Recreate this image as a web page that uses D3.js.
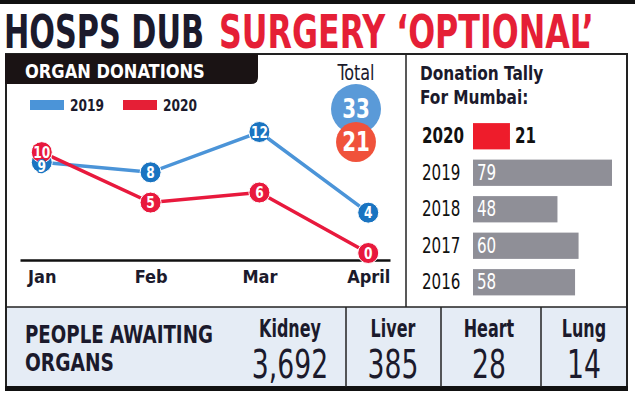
<!DOCTYPE html>
<html>
<head>
<meta charset="utf-8">
<script src="https://cdn.jsdelivr.net/npm/d3@7"></script>
<style>
  body { margin: 0; background: #fff; }
  svg { display: block; }
  text { font-family: "Liberation Sans Narrow", "DejaVu Sans Condensed", "Arial Narrow", sans-serif; }
</style>
</head>
<body>
<script>
var months = ['Jan', 'Feb', 'Mar', 'April'];
var donations2019 = [9, 8, 12, 4];
var donations2020 = [10, 5, 6, 0];
var seriesNames = ['2019', '2020'];
var totalValues = [33, 21];
var tallyYears = ['2020', '2019', '2018', '2017', '2016'];
var tallyValues = [21, 79, 48, 60, 58];
var organs = ['Kidney', 'Liver', 'Heart', 'Lung'];
var awaiting = [3692, 385, 28, 14];

var navy = '#1b1a2c';
var red = '#e51f36';
var blueLine = '#4b94d8';
var bluePt = '#1a74c1';
var redPt = '#e8193d';

var W = 635, H = 393;
var svg = d3.select('body').append('svg')
  .attr('width', W)
  .attr('height', H);

// text squeezed sideways, the installed condensed face is wider than the print one
function label(parent, tx, ty, sx, str) {
  return parent.append('g')
    .attr('transform', 'translate(' + tx + ',' + ty + ') scale(' + sx + ',1)')
    .append('text').text(str);
}

// squeeze a text so it spans a given width
function fitWidth(t, w) {
  var len = t.node().getComputedTextLength();
  var g = d3.select(t.node().parentNode);
  g.attr('transform', g.attr('transform').replace(/scale\([^)]*\)/, 'scale(' + (w / len) + ',1)'));
}

// top rule + headline
svg.append('rect').attr('x', 0).attr('y', 0).attr('width', W).attr('height', 4).attr('fill', '#111');
var h1 = label(svg, 4, 48, 1, 'HOSPS DUB')
  .attr('font-size', 47).attr('font-weight', 'bold').attr('fill', navy);
fitWidth(h1, 200);
var h2 = label(svg, 219, 48, 1, 'SURGERY \u2018OPTIONAL\u2019')
  .attr('font-size', 47).attr('font-weight', 'bold').attr('fill', red);
fitWidth(h2, 375);

// frame
var L = 6, R = 627, T = 54, B = 387, midX = 406, splitY = 307;
svg.append('rect').attr('x', L).attr('y', splitY).attr('width', R - L).attr('height', B - splitY).attr('fill', '#e5ecf5');
svg.append('path')
  .attr('d', 'M' + L + ',' + B + 'V' + T + 'H' + R + 'V' + B)
  .attr('fill', 'none').attr('stroke', '#222').attr('stroke-width', 2);
svg.append('line').attr('x1', L).attr('x2', R).attr('y1', splitY).attr('y2', splitY).attr('stroke', '#222').attr('stroke-width', 1.5);
svg.append('line').attr('x1', midX).attr('x2', midX).attr('y1', T).attr('y2', splitY).attr('stroke', '#222').attr('stroke-width', 1.5);
svg.append('rect').attr('x', L - 1).attr('y', B - 1).attr('width', R - L + 2).attr('height', 5).attr('fill', '#111');

// tab
svg.append('path')
  .attr('d', 'M' + (L - 1) + ',' + T + 'H258V77Q258,84 251,84H' + (L - 1) + 'Z')
  .attr('fill', '#1a1314');
var tab = label(svg, 25, 78, 1, 'ORGAN DONATIONS')
  .attr('font-size', 20).attr('font-weight', 'bold').attr('fill', '#fff');
fitWidth(tab, 180);

// line chart
var x = d3.scalePoint().domain(months).range([20, 390]).padding(0.2);
var y = d3.scaleLinear().domain([0, 12]).range([253, 132]);

var axis = svg.append('g')
  .attr('transform', 'translate(0,260)')
  .call(d3.axisBottom(x).tickSize(0).tickSizeOuter(0).tickPadding(10));
axis.select('.domain').attr('stroke', '#111').attr('stroke-width', 2.5);
axis.selectAll('text')
  .attr('font-size', 18).attr('font-weight', 'bold').attr('fill', navy)
  .attr('font-family', '"Liberation Sans Narrow", "DejaVu Sans Condensed", sans-serif');

// legend
var legend = svg.append('g');
[blueLine, red].forEach(function(c, i) {
  legend.append('rect').attr('x', 30 + i * 93).attr('y', 100).attr('width', 34).attr('height', 10).attr('fill', c);
  label(legend, 70 + i * 93, 111, 0.85, seriesNames[i])
    .attr('font-size', 16).attr('font-weight', 'bold').attr('fill', navy);
});

var line = d3.line()
  .x(function(d, i) { return x(months[i]); })
  .y(function(d) { return y(d); });

var series = [
  { values: donations2019, other: donations2020, stroke: blueLine, fill: bluePt },
  { values: donations2020, other: donations2019, stroke: redPt, fill: redPt }
];

series.forEach(function(s) {
  svg.append('path').datum(s.values)
    .attr('d', line).attr('fill', 'none')
    .attr('stroke', s.stroke).attr('stroke-width', 3.5);
});
series.forEach(function(s) {
  svg.selectAll(null).data(s.values).enter().append('circle')
    .attr('cx', function(d, i) { return x(months[i]); })
    .attr('cy', function(d) { return y(d); })
    .attr('r', 10.5)
    .attr('fill', s.fill).attr('stroke', '#fff').attr('stroke-width', 1);
});
series.forEach(function(s) {
  s.values.forEach(function(d, i) {
    // when two points nearly sit on each other, drop the lower one's number a bit
    var nudge = (Math.abs(d - s.other[i]) <= 1 && d < s.other[i]) ? 4 : 0;
    label(svg, x(months[i]), y(d) + 5.5 + nudge, 0.85, d)
      .attr('text-anchor', 'middle')
      .attr('font-size', 16).attr('font-weight', 'bold').attr('fill', '#fff')
      .attr('stroke', s.fill).attr('stroke-width', 2.5).attr('paint-order', 'stroke');
  });
});

// totals
label(svg, 356, 80, 0.85, 'Total')
  .attr('text-anchor', 'middle').attr('font-size', 21).attr('fill', navy);
var rTot = d3.scaleSqrt().domain([0, 33]).range([0, 25]);
var totY = [109, 142];
var totColors = ['#5a9ad8', '#f0523b'];
totalValues.forEach(function(v, i) {
  svg.append('circle').attr('cx', 356).attr('cy', totY[i]).attr('r', rTot(v)).attr('fill', totColors[i]);
});
totalValues.forEach(function(v, i) {
  label(svg, 356, totY[i] + 9, 0.85, v)
    .attr('text-anchor', 'middle').attr('font-size', 26).attr('font-weight', 'bold').attr('fill', '#fff');
});

// donation tally
label(svg, 420, 80, 0.9, 'Donation Tally')
  .attr('font-size', 19).attr('font-weight', 'bold').attr('fill', navy);
label(svg, 420, 104, 0.9, 'For Mumbai:')
  .attr('font-size', 19).attr('font-weight', 'bold').attr('fill', navy);

var bx = d3.scaleLinear().domain([0, 79]).range([0, 139]);
var by = d3.scaleBand().domain(tallyYears).range([118, 300.5]).paddingInner(0.28).paddingOuter(0.14);
var barX = 473;

svg.selectAll('.bar').data(tallyYears).enter().append('rect')
  .attr('class', 'bar')
  .attr('x', barX)
  .attr('y', function(d) { return by(d); })
  .attr('width', function(d, i) { return bx(tallyValues[i]); })
  .attr('height', by.bandwidth())
  .attr('fill', function(d, i) { return i === 0 ? '#ee1c2b' : '#8f8f97'; });
tallyYears.forEach(function(yr, i) {
  var cy = by(yr) + by.bandwidth() / 2 + 7;
  label(svg, 422, cy, 0.8, yr)
    .attr('font-size', 21).attr('font-weight', i === 0 ? 'bold' : 'normal').attr('fill', '#111');
  var vx = i === 0 ? barX + bx(tallyValues[i]) + 5 : barX + 4;
  label(svg, vx, cy, 0.8, tallyValues[i])
    .attr('font-size', 21).attr('font-weight', i === 0 ? 'bold' : 'normal')
    .attr('fill', i === 0 ? '#111' : '#fff');
});

// bottom panel
var p1 = label(svg, 25, 343, 1, 'PEOPLE AWAITING')
  .attr('font-size', 24).attr('font-weight', 'bold').attr('fill', navy);
fitWidth(p1, 188);
var p2 = label(svg, 25, 371, 1, 'ORGANS')
  .attr('font-size', 24).attr('font-weight', 'bold').attr('fill', navy);
fitWidth(p2, 89);

var dividers = [346, 441, 541];
dividers.forEach(function(dx) {
  svg.append('line').attr('x1', dx).attr('x2', dx).attr('y1', splitY).attr('y2', B)
    .attr('stroke', '#222').attr('stroke-width', 1.5);
});
var organX = [290, 393, 489, 584];
var fmt = d3.format(',');
organs.forEach(function(o, i) {
  label(svg, organX[i], 337, 0.74, o)
    .attr('text-anchor', 'middle').attr('font-size', 24).attr('font-weight', 'bold').attr('fill', navy);
  label(svg, organX[i], 378, 0.76, fmt(awaiting[i]))
    .attr('text-anchor', 'middle').attr('font-size', 39).attr('fill', navy);
});
</script>
</body>
</html>
